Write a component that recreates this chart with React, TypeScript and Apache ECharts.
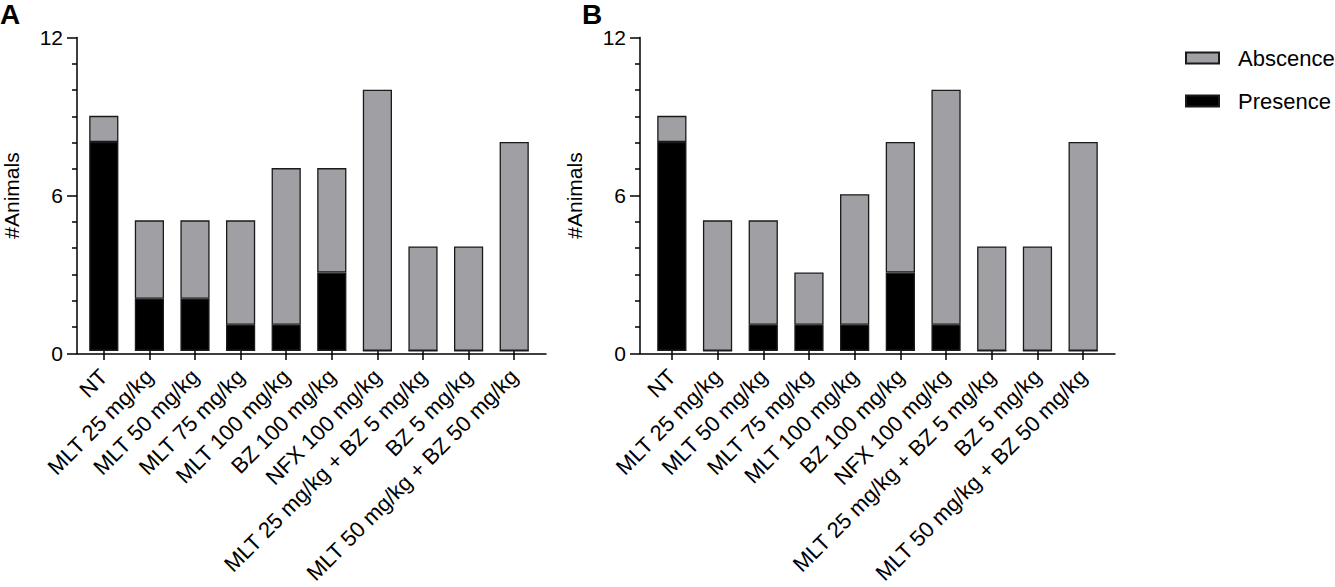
import React, { useEffect, useRef } from "react";
import * as echarts from "echarts";

const categories = [
  "NT",
  "MLT 25 mg/kg",
  "MLT 50 mg/kg",
  "MLT 75 mg/kg",
  "MLT 100 mg/kg",
  "BZ 100 mg/kg",
  "NFX 100 mg/kg",
  "MLT 25 mg/kg + BZ 5 mg/kg",
  "BZ 5 mg/kg",
  "MLT 50 mg/kg + BZ 50 mg/kg",
];
const presenceA = [8, 2, 2, 1, 1, 3, 0, 0, 0, 0];
const absenceA = [1, 3, 3, 4, 6, 4, 10, 4, 4, 8];
const presenceB = [8, 0, 1, 1, 1, 3, 1, 0, 0, 0];
const absenceB = [1, 5, 4, 2, 5, 5, 9, 4, 4, 8];
const seriesNames = ["Abscence", "Presence"];
const panelLabels = ["A", "B"];
const yMax = 12;
const yInterval = 6;

const FONT = "'Liberation Sans', Arial, Helvetica, sans-serif";
const GRAY = "#a09fa4";
const BORDER = "#1a1a1a";

export default function App() {
  const ref = useRef<HTMLDivElement>(null);
  useEffect(() => {
    if (!ref.current) return;
    const chart = echarts.init(ref.current, undefined, { renderer: "svg" });
    const top = 37.5;
    const height = 316;
    const frames = [
      { left: 72, width: 474 },
      { left: 640, width: 475 },
    ];
    const pad = 9;
    const grids: any[] = [];
    frames.forEach((f) => {
      grids.push({ left: f.left, top, width: f.width, height });
      grids.push({ left: f.left + pad, top, width: f.width - 2 * pad, height });
    });
    const xAxes: any[] = [];
    const yAxes: any[] = [];
    frames.forEach((_, p) => {
      xAxes.push({
        gridIndex: p * 2,
        type: "value",
        min: 0,
        max: 1,
        axisLine: { show: true, lineStyle: { color: "#000", width: 1.5 } },
        axisTick: { show: false },
        axisLabel: { show: false },
        splitLine: { show: false },
      });
      xAxes.push({
        gridIndex: p * 2 + 1,
        type: "category",
        data: categories,
        offset: 3,
        axisLine: { show: false },
        axisTick: {
          show: true,
          alignWithLabel: true,
          length: 9,
          lineStyle: { color: "#000", width: 1.5 },
        },
        axisLabel: {
          interval: 0,
          rotate: 45,
          margin: 19,
          fontSize: 22,
          fontFamily: FONT,
          color: "#000",
        },
      });
      yAxes.push({
        gridIndex: p * 2,
        type: "value",
        min: 0,
        max: yMax,
        interval: yInterval,
        name: "#Animals",
        nameLocation: "middle",
        nameGap: 55,
        nameTextStyle: { fontSize: 21, fontFamily: FONT, color: "#000" },
        axisLine: { show: true, lineStyle: { color: "#000", width: 1.5 } },
        axisTick: { show: true, length: 10, lineStyle: { color: "#000", width: 1.5 } },
        minorTick: {
          show: true,
          splitNumber: 6,
          length: 5,
          lineStyle: { color: "#000", width: 1.5 },
        },
        axisLabel: { margin: 14, fontSize: 21, fontFamily: FONT, color: "#000" },
        splitLine: { show: false },
      });
      yAxes.push({
        gridIndex: p * 2 + 1,
        type: "value",
        min: 0,
        max: yMax,
        show: false,
      });
    });
    const panels = [
      { presence: presenceA, absence: absenceA },
      { presence: presenceB, absence: absenceB },
    ];
    const series: any[] = [];
    panels.forEach((pd, p) => {
      series.push({
        name: seriesNames[1],
        type: "bar",
        stack: "s" + p,
        xAxisIndex: p * 2 + 1,
        yAxisIndex: p * 2 + 1,
        barWidth: "64%",
        data: pd.presence,
        itemStyle: { color: "#000", borderColor: BORDER, borderWidth: 1.3 },
      });
      series.push({
        name: seriesNames[0],
        type: "bar",
        stack: "s" + p,
        xAxisIndex: p * 2 + 1,
        yAxisIndex: p * 2 + 1,
        barWidth: "64%",
        data: pd.absence,
        itemStyle: { color: GRAY, borderColor: BORDER, borderWidth: 1.3 },
      });
    });
    chart.setOption({
      animation: false,
      backgroundColor: "#fff",
      title: [
        {
          text: panelLabels[0],
          left: 0,
          top: 0,
          padding: 0,
          textStyle: { fontSize: 28, fontWeight: "bold", fontFamily: FONT, color: "#000" },
        },
        {
          text: panelLabels[1],
          left: 582,
          top: 0,
          padding: 0,
          textStyle: { fontSize: 28, fontWeight: "bold", fontFamily: FONT, color: "#000" },
        },
      ],
      legend: {
        data: seriesNames,
        orient: "vertical",
        left: 1185,
        top: 47,
        padding: 0,
        itemWidth: 33,
        itemHeight: 11,
        itemGap: 21,
        icon: "rect",
        textStyle: {
          fontSize: 22,
          fontFamily: FONT,
          color: "#000",
          lineHeight: 22,
          padding: [0, 0, 0, 14],
        },
      },
      grid: grids,
      xAxis: xAxes,
      yAxis: yAxes,
      series,
    });
    return () => chart.dispose();
  }, []);
  return (
    <div
      ref={ref}
      style={{ position: "absolute", left: 0, top: 0, width: 1335, height: 587 }}
    />
  );
}
